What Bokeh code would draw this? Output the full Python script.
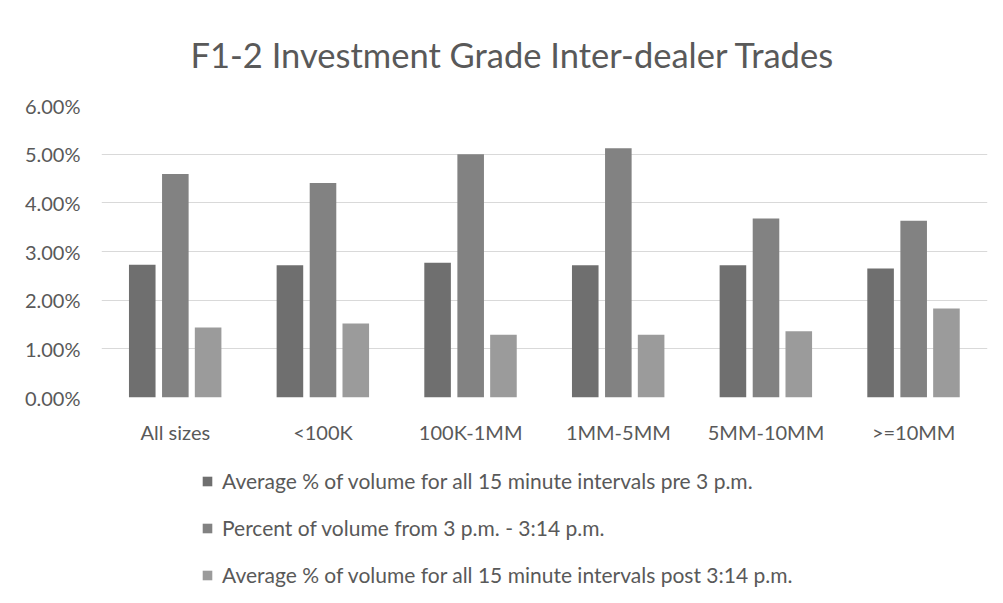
from bokeh.plotting import figure
from bokeh.layouts import column
from bokeh.models import (ColumnDataSource, FactorRange, Range1d, Legend, LegendItem,
                          NumeralTickFormatter, FixedTicker)
from bokeh.transform import dodge
from bokeh.embed import file_html
from bokeh.resources import INLINE

title_text = "F1-2 Investment Grade Inter-dealer Trades"
categories = ["All sizes", "<100K", "100K-1MM", "1MM-5MM", "5MM-10MM", ">=10MM"]
series_names = [
    "Average % of volume for all 15 minute intervals pre 3 p.m.",
    "Percent of volume from 3 p.m. - 3:14 p.m.",
    "Average % of volume for all 15 minute intervals post 3:14 p.m.",
]
pre_3pm = [0.0273, 0.0272, 0.0277, 0.0272, 0.0272, 0.0265]
from_3pm_to_314 = [0.0459, 0.0441, 0.0500, 0.0512, 0.0368, 0.0363]
post_314 = [0.0144, 0.0152, 0.0129, 0.0129, 0.0136, 0.0183]
y_ticks = [0.0, 0.01, 0.02, 0.03, 0.04, 0.05, 0.06]

colors = ["#6f6f6f", "#828282", "#9b9b9b"]
FONT = "Lato"
TXT = "#595959"
fields = ["a", "b", "c"]
offsets = [-0.224, 0.0, 0.222]

src = ColumnDataSource(dict(cat=categories, a=pre_3pm, b=from_3pm_to_314, c=post_314))

# ---- main chart ----
p = figure(x_range=FactorRange(*categories), y_range=Range1d(0, 0.06),
           width=995, height=455, output_backend="svg", toolbar_location=None,
           min_border_left=101, min_border_right=8, min_border_top=105, min_border_bottom=58)

for field, off, col in zip(fields, offsets, colors):
    p.vbar(x=dodge("cat", off, range=p.x_range), top=field, width=0.18,
           source=src, fill_color=col, line_color=None)

p.outline_line_color = None
p.xgrid.visible = False
p.ygrid.grid_line_color = "#d9d9d9"
p.ygrid.grid_line_width = 1

p.yaxis.ticker = FixedTicker(ticks=y_ticks)
p.yaxis.formatter = NumeralTickFormatter(format="0.00%")
for ax in (p.xaxis, p.yaxis):
    ax.axis_line_color = None
    ax.major_tick_line_color = None
    ax.minor_tick_line_color = None
    ax.major_tick_out = 0
    ax.major_label_text_font = FONT
    ax.major_label_text_font_size = "20px"
    ax.major_label_text_color = TXT
p.xaxis.major_label_standoff = 22
p.yaxis.major_label_standoff = 21

p.title.text = title_text
p.title.text_font = FONT
p.title.text_font_size = "34.5px"
p.title.text_font_style = "normal"
p.title.text_color = TXT
p.title.align = "left"
p.title.offset = 89
p.title.standoff = 61

# ---- legend strip below the chart (same series, zero-width so nothing shows there) ----
lg = figure(x_range=FactorRange(*categories), y_range=Range1d(-2, -1),
            width=995, height=140, output_backend="svg", toolbar_location=None,
            min_border=0, x_axis_type=None, y_axis_type=None)
lg.outline_line_color = None
lg.grid.visible = False
legend_renderers = [
    lg.vbar(x=dodge("cat", off, range=lg.x_range), top=field, width=0,
            source=src, fill_color=col, line_color=None)
    for field, off, col in zip(fields, offsets, colors)
]
legend = Legend(items=[LegendItem(label=n, renderers=[r])
                       for n, r in zip(series_names, legend_renderers)],
                location=(100, 8), orientation="vertical")
legend.padding = 0
legend.margin = 0
legend.border_line_color = None
legend.background_fill_alpha = 0
legend.glyph_width = 12
legend.glyph_height = 12
legend.label_height = 24
legend.label_standoff = 9
legend.spacing = 22
legend.label_text_font = FONT
legend.label_text_font_size = "21px"
legend.label_text_color = TXT
lg.add_layout(legend, "center")

layout = column(p, lg, spacing=0)
open("out.html", "w").write(file_html(layout, INLINE))
